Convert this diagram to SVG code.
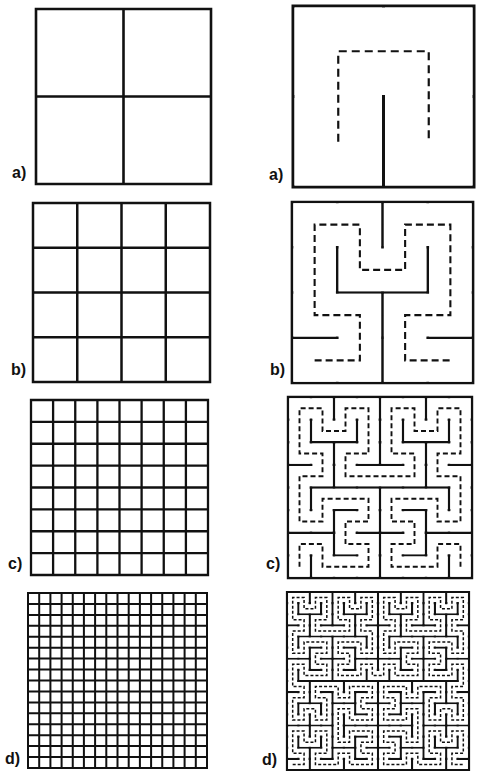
<svg xmlns="http://www.w3.org/2000/svg" xmlns:xlink="http://www.w3.org/1999/xlink" width="477" height="773" viewBox="0 0 477 773">
<style>
.grid{fill:none;stroke:#111;stroke-linecap:square}
.mask{fill:none;stroke:#fff;stroke-linecap:square;stroke-linejoin:miter}
.trail{fill:none;stroke:#111;stroke-linecap:butt;stroke-linejoin:miter}
.lbl{font-family:"Liberation Sans",Arial,sans-serif;font-weight:bold;font-size:16px;fill:#111}
</style>
<defs>
<path id="h1" d="M338.25 141.75 v-90.5 h90.5 v90.5"/>
<path id="h2" d="M314.625 360.375 h45.25 v-45.25 h-45.25 v-90.5 h45.25 v45.25 h45.25 v-45.25 h45.25 v90.5 h-45.25 v45.25 h45.25"/>
<path id="h3" d="M299.5 566.6875 v-22.625 h23 v22.625 h46 v-22.625 h-23 v-22.625 h23 v-22.625 h-46 v22.625 h-23 v-45.25 h23 v-22.625 h-23 v-45.25 h23 v22.625 h23 v-22.625 h23 v45.25 h-23 v22.625 h69 v-22.625 h-23 v-45.25 h23 v22.625 h23 v-22.625 h23 v45.25 h-23 v22.625 h23 v45.25 h-23 v-22.625 h-46 v22.625 h23 v22.625 h-23 v22.625 h46 v-22.625 h23 v22.625"/>
<path id="h4" d="M292.6875 764.4375 h11.375 v-11.125 h-11.375 v-22.25 h11.375 v11.125 h11.375 v-11.125 h11.375 v22.25 h-11.375 v11.125 h22.75 v-11.125 h11.375 v11.125 h22.75 v-11.125 h-11.375 v-11.125 h11.375 v-11.125 h-22.75 v11.125 h-11.375 v-33.375 h11.375 v11.125 h22.75 v-11.125 h-11.375 v-11.125 h11.375 v-11.125 h-22.75 v11.125 h-11.375 v-11.125 h-22.75 v11.125 h11.375 v22.25 h-11.375 v-11.125 h-11.375 v11.125 h-11.375 v-22.25 h11.375 v-11.125 h-11.375 v-22.25 h11.375 v11.125 h22.75 v-11.125 h-11.375 v-11.125 h11.375 v-11.125 h-22.75 v11.125 h-11.375 v-22.25 h11.375 v-11.125 h-11.375 v-22.25 h11.375 v11.125 h11.375 v-11.125 h11.375 v22.25 h-11.375 v11.125 h34.125 v-11.125 h-11.375 v-22.25 h11.375 v11.125 h11.375 v-11.125 h11.375 v22.25 h-11.375 v11.125 h11.375 v22.25 h-11.375 v-11.125 h-22.75 v11.125 h11.375 v11.125 h-11.375 v11.125 h22.75 v-11.125 h11.375 v11.125 h11.375 v-11.125 h11.375 v11.125 h22.75 v-11.125 h-11.375 v-11.125 h11.375 v-11.125 h-22.75 v11.125 h-11.375 v-22.25 h11.375 v-11.125 h-11.375 v-22.25 h11.375 v11.125 h11.375 v-11.125 h11.375 v22.25 h-11.375 v11.125 h34.125 v-11.125 h-11.375 v-22.25 h11.375 v11.125 h11.375 v-11.125 h11.375 v22.25 h-11.375 v11.125 h11.375 v22.25 h-11.375 v-11.125 h-22.75 v11.125 h11.375 v11.125 h-11.375 v11.125 h22.75 v-11.125 h11.375 v22.25 h-11.375 v11.125 h11.375 v22.25 h-11.375 v-11.125 h-11.375 v11.125 h-11.375 v-22.25 h11.375 v-11.125 h-22.75 v11.125 h-11.375 v-11.125 h-22.75 v11.125 h11.375 v11.125 h-11.375 v11.125 h22.75 v-11.125 h11.375 v33.375 h-11.375 v-11.125 h-22.75 v11.125 h11.375 v11.125 h-11.375 v11.125 h22.75 v-11.125 h11.375 v11.125 h22.75 v-11.125 h-11.375 v-22.25 h11.375 v11.125 h11.375 v-11.125 h11.375 v22.25 h-11.375 v11.125 h11.375"/>
</defs>
<rect width="477" height="773" fill="#fff"/>

<g id="grid-a">
<path class="grid" stroke-width="2.6" d="M36 9H211V184H36Z M123.5 9V184 M36 96.5H211"/>
<text class="lbl" x="12" y="178">a)</text>
</g>
<g id="grid-b">
<path class="grid" stroke-width="2.5" d="M33 203H210V382H33Z M77.25 203V382 M121.5 203V382 M165.75 203V382 M33 247.75H210 M33 292.5H210 M33 337.25H210"/>
<text class="lbl" x="11" y="375">b)</text>
</g>
<g id="grid-c">
<path class="grid" stroke-width="2.3" d="M31 400H208V575H31Z M53.1 400V575 M75.25 400V575 M97.4 400V575 M119.5 400V575 M141.6 400V575 M163.75 400V575 M185.9 400V575 M31 421.9H208 M31 443.75H208 M31 465.6H208 M31 487.5H208 M31 509.4H208 M31 531.25H208 M31 553.1H208"/>
<text class="lbl" x="8" y="569">c)</text>
</g>
<g id="grid-d">
<path class="grid" stroke-width="2" d="M28 593H207V768H28Z M39.2 593V768 M50.4 593V768 M61.6 593V768 M72.75 593V768 M83.9 593V768 M95.1 593V768 M106.3 593V768 M117.5 593V768 M128.7 593V768 M139.9 593V768 M151.1 593V768 M162.25 593V768 M173.4 593V768 M184.6 593V768 M195.8 593V768 M28 603.9H207 M28 614.9H207 M28 625.8H207 M28 636.75H207 M28 647.7H207 M28 658.6H207 M28 669.6H207 M28 680.5H207 M28 691.4H207 M28 702.4H207 M28 713.3H207 M28 724.25H207 M28 735.2H207 M28 746.1H207 M28 757.1H207"/>
<text class="lbl" x="5" y="764">d)</text>
</g>

<g id="maze-a">
<path class="grid" stroke-width="3" d="M293 6H474V187H293Z M383.5 6V187 M293 96.5H474"/>
<use xlink:href="#h1" href="#h1" class="mask" stroke-width="87.5"/>
<use xlink:href="#h1" href="#h1" class="trail" stroke-width="2.2" stroke-dasharray="8 5"/>
<text class="lbl" x="269" y="180">a)</text>
</g>
<g id="maze-b">
<path class="grid" stroke-width="2.7" d="M292 202H473V383H292Z M337.25 202V383 M382.5 202V383 M427.75 202V383 M292 247.25H473 M292 292.5H473 M292 337.75H473"/>
<use xlink:href="#h2" href="#h2" class="mask" stroke-width="42.55"/>
<use xlink:href="#h2" href="#h2" class="trail" stroke-width="2.1" stroke-dasharray="7 4"/>
<text class="lbl" x="270" y="375">b)</text>
</g>
<g id="maze-c">
<path class="grid" stroke-width="2.4" d="M288 397H472V578H288Z M311 397V578 M334 397V578 M357 397V578 M380 397V578 M403 397V578 M426 397V578 M449 397V578 M288 419.625H472 M288 442.25H472 M288 464.875H472 M288 487.5H472 M288 510.125H472 M288 532.75H472 M288 555.375H472"/>
<use xlink:href="#h3" href="#h3" class="mask" stroke-width="20.2"/>
<use xlink:href="#h3" href="#h3" class="trail" stroke-width="1.9" stroke-dasharray="5 3"/>
<text class="lbl" x="266" y="569">c)</text>
</g>
<g id="maze-d">
<path class="grid" stroke-width="2.2" d="M287 592H469V770H287Z M298.375 592V770 M309.75 592V770 M321.125 592V770 M332.5 592V770 M343.875 592V770 M355.25 592V770 M366.625 592V770 M378 592V770 M389.375 592V770 M400.75 592V770 M412.125 592V770 M423.5 592V770 M434.875 592V770 M446.25 592V770 M457.625 592V770 M287 603.125H469 M287 614.25H469 M287 625.375H469 M287 636.5H469 M287 647.625H469 M287 658.75H469 M287 669.875H469 M287 681H469 M287 692.125H469 M287 703.25H469 M287 714.375H469 M287 725.5H469 M287 736.625H469 M287 747.75H469 M287 758.875H469"/>
<use xlink:href="#h4" href="#h4" class="mask" stroke-width="8.9"/>
<use xlink:href="#h4" href="#h4" class="trail" stroke-width="1.5" stroke-dasharray="3 2"/>
<text class="lbl" x="262" y="765">d)</text>
</g>
</svg>
